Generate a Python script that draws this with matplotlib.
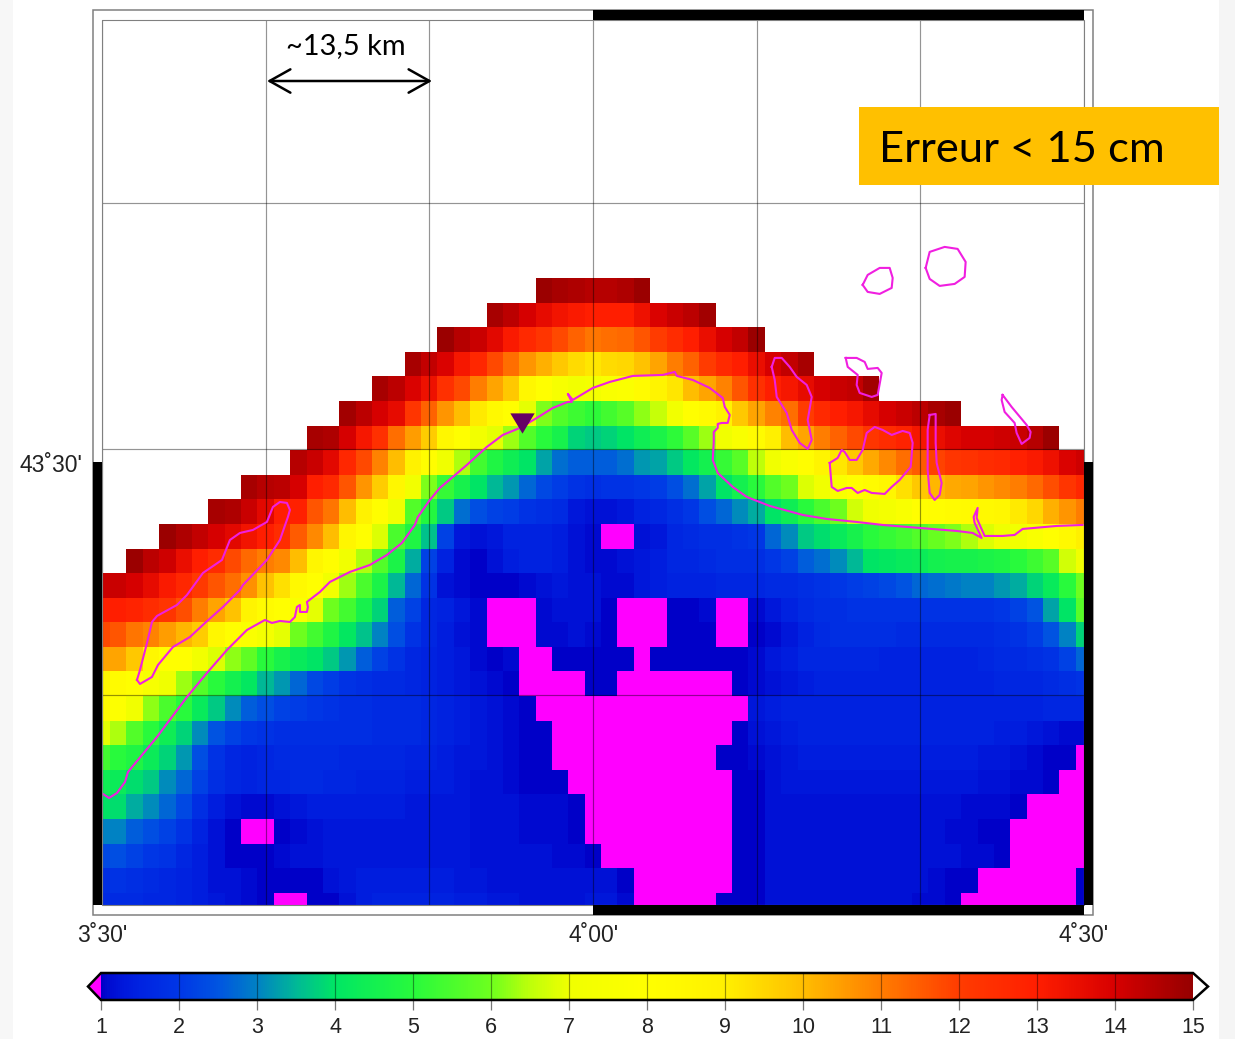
import numpy as np
import matplotlib
matplotlib.use('Agg')
import matplotlib.pyplot as plt
import matplotlib as mpl
from matplotlib.colors import LinearSegmentedColormap, Normalize
from matplotlib.patches import Rectangle

W, H = 1235, 1039

# error grid, one list per row from top to bottom. N = no data, M = below colour scale
N = np.nan
M = -1
r25 = (27, [14.9,14.7,14.6,14.5,14.5,14.6,14.9])
r24 = (24, [14.7,14.4,14,13.6,13.3,13.1,13,13,13,13.4,13.9,14.2,14.4,14.8])
r23 = (21, [14.9,14.5,14.2,13.7,13.1,12.6,12.2,11.8,11.4,11.1,11.2,11.3,11.6,12,12.5,13,13.5,14,14.3,14.9])
r22 = (19, [14.7,14.3,13.9,13.2,12.7,11.8,11.2,10.6,10.2,9.8,9.4,9.2,9.4,9.5,9.9,10.4,11,11.4,12,12.6,13,13.5,14,14.3,14.7])
r21 = (17, [14.7,14.4,13.9,13.4,12.4,11.8,11,10.4,9.8,8.5,8,7.5,7.2,7.3,7.6,7.8,8.2,8.7,9.2,10,10.4,10.9,11.6,12.4,13,13.2,13.6,14,14.2,14.3,14.8])
r20 = (15, [14.8,14.4,14,13.6,12.2,11.4,10.6,10,9.1,8.4,8,6.9,6.1,5.6,5.3,5.1,5.4,5.7,6.2,6.6,7.2,8,8.3,8.8,9.8,10.4,10.9,11.2,12,12.6,13,13.2,13.6,14,14.2,14.4,14.7,14.9])
r19 = (13, [14.7,14.6,14,13.2,12.4,11.2,10.5,9.7,8.5,8,7.2,6.9,6.3,5.6,5,4.6,3.8,3.7,3.8,4,4.4,4.7,5.1,5.7,6.3,7.1,7.6,8.2,9,10,10.4,11,11.4,11.8,12.2,12.5,12.8,13.2,13.5,13.8,14,14,14.1,14.2,14.5,14.9])
r18 = (12, [14.5,14.2,13.7,12.7,11.8,10.9,10,8.8,8.1,7,6.4,5.4,4.8,4.4,4,3.3,2.8,2.6,2.6,2.6,2.8,3.2,3.3,3.7,4.1,4.5,5.2,5.7,6.5,7.1,7.6,8.1,8.7,9.2,9.8,10.3,10.8,11.2,11.5,11.9,12.2,12.3,12.5,12.6,12.9,13.1,13.4,13.9,14.1])
r17 = (9, [14.7,14.5,14.4,14,13,12.6,11.6,10.6,9.7,8.5,7.2,6.1,5.2,4.6,4,3.5,3.2,2.7,2.3,2.1,1.9,1.8,1.9,1.9,2,2.1,2.4,2.8,3.3,4,4.5,5,5.6,6,6.8,7.1,7.6,8,8.2,8.6,9.3,9.8,10.1,10.3,10.4,10.6,10.8,11,11.3,11.7,12.2,12.7])
r16 = (7, [14.7,14.6,14.2,13.7,13,12.9,11.6,11.1,10,8.8,8.1,7,5.6,4.9,3.7,2.8,2.4,2.2,2.1,1.9,1.8,1.7,1.3,1.2,1.2,1.3,1.5,1.6,1.8,2,2.4,2.7,3.1,3.4,4,4.4,5,5.5,6,6.7,7,7.3,7.6,8,8.1,8.2,8.3,8.4,8.5,9.1,9.5,10.2,10.6,11])
r15 = (4, [14.9,14.6,14.3,14,13.7,13.3,13,12.5,11.5,10.8,10,8.6,8,6.8,5.5,4.8,3.6,2.2,1.3,1.2,1.3,1.5,1.5,1.5,1.4,1.2,1.1,M,M,1.2,1.3,1.6,1.7,1.8,1.8,1.9,2,2.7,3.1,3.7,3.9,4.2,4.6,5,5.2,5.4,5.6,5.9,6.1,6.4,6.8,7,7.2,7.6,8,8.4,9])
r14 = (2, [14.9,14.4,14.1,13.5,13,12.5,11.8,11.3,11,10.8,10,8.6,8.1,7.1,6.4,5.6,4.7,3.4,2.2,1.5,1.1,1,1.2,1.4,1.5,1.5,1.4,1.2,1.1,1.1,1.2,1.3,1.4,1.6,1.6,1.7,1.8,1.8,1.8,2,2.2,2.6,2.8,3.1,3.5,4,4.1,4.2,4.3,4.5,4.6,4.6,4.7,4.8,5,5.3,5.7,6.7,7])
r13 = (0, [14.2,14.2,14,13.6,13.1,12.7,12.1,11.6,11.2,10.7,9.9,9.3,8.4,8,7.1,6.3,5.5,4.7,3.5,2.7,1.9,1.2,1.1,1,1,1,1.1,1.2,1.3,1.2,1.2,1.1,1.1,1.3,1.4,1.5,1.5,1.5,1.6,1.6,1.6,1.7,1.7,1.8,1.9,2,2.1,2.2,2.3,2.5,2.7,2.8,2.9,3,3,3.2,3.4,3.8,4.2,5,6])
r12 = (0, [12.9,13,12.8,12.5,12.2,11.7,11,10.4,9.9,8.7,8.2,8,7.6,6.9,6,5.4,4.6,3.8,2.6,2.2,1.6,1.5,1.3,1.1,M,M,M,1.1,1.2,1.2,1.2,1,M,M,M,1,1,1.1,M,M,1.1,1.3,1.5,1.7,1.8,1.8,1.9,1.9,1.9,1.9,1.9,1.9,1.9,1.9,1.9,2,2.2,2.5,3.3,4,5.7])
r11 = (0, [11.8,11.6,11.1,10.9,10.5,10.1,9.7,8.5,8,7.7,7.3,6.9,6,5.4,4.8,4.1,3.6,3,2.4,1.9,1.6,1.4,1.2,1.1,M,M,M,1.1,1.1,1.2,1.1,1,M,M,M,1,1,1,M,M,1,1.1,1.3,1.5,1.7,1.8,1.8,1.8,1.8,1.7,1.7,1.7,1.7,1.7,1.7,1.8,1.9,2.1,2.5,3,3.8])
r10 = (0, [10.4,10.4,9.8,8.5,8,8,7.2,6.8,6.2,5.8,5,4.6,4.2,4,3.7,3.2,2.6,2.2,1.9,1.6,1.5,1.4,1.3,1.1,1,1.1,M,M,1,1,1,1,1,M,1,1,1,1,1,1,1.1,1.3,1.4,1.6,1.6,1.6,1.6,1.6,1.5,1.5,1.5,1.5,1.5,1.5,1.6,1.7,1.7,1.8,1.9,2.2,2.7])
r9 = (0, [8.6,8.2,8,7.5,7,6.3,5.6,5,4.5,4.1,3.5,3.2,2.7,2.3,2.1,1.9,1.8,1.7,1.7,1.6,1.5,1.4,1.3,1.2,1.1,1,M,M,M,M,1,1,M,M,M,M,M,M,M,1,1.1,1.2,1.3,1.4,1.5,1.5,1.5,1.5,1.5,1.5,1.5,1.5,1.5,1.5,1.5,1.6,1.6,1.6,1.7,1.8,1.9])
r8 = (0, [8.2,7.9,7.1,6.2,5.5,5,4.2,3.7,3.1,2.6,2.4,2.2,2.1,2,1.9,1.8,1.8,1.7,1.7,1.7,1.6,1.5,1.4,1.3,1.2,1.1,1,M,M,M,M,M,M,M,M,M,M,M,M,M,1.3,1.4,1.5,1.5,1.5,1.5,1.5,1.5,1.5,1.5,1.5,1.5,1.5,1.5,1.5,1.5,1.5,1.5,1.6,1.6,1.6])
r7 = (0, [6.9,6.4,5.6,5,4.4,3.8,3.1,2.5,2.2,2,1.9,1.8,1.8,1.8,1.8,1.8,1.8,1.7,1.7,1.7,1.6,1.5,1.4,1.3,1.2,1.1,1,1,M,M,M,M,M,M,M,M,M,M,M,1,1.2,1.3,1.4,1.5,1.5,1.5,1.5,1.5,1.5,1.5,1.5,1.5,1.5,1.5,1.5,1.4,1.4,1.3,1.2,1.1,1.1])
r6 = (0, [5.4,5,4.8,4.3,3.8,3.2,2.4,1.9,1.6,1.5,1.6,1.7,1.7,1.7,1.7,1.6,1.6,1.6,1.6,1.5,1.5,1.4,1.3,1.3,1.2,1.1,1,1,M,M,M,M,M,M,M,M,M,M,1,1,1.1,1.2,1.3,1.4,1.4,1.4,1.4,1.4,1.4,1.4,1.4,1.4,1.4,1.4,1.3,1.3,1.2,1.1,1,1,M])
r5 = (0, [4.4,4.3,3.9,3.7,3.1,2.7,2.2,1.8,1.6,1.5,1.6,1.6,1.7,1.7,1.6,1.6,1.5,1.5,1.5,1.4,1.4,1.4,1.3,1.2,1.2,1.1,1,1,1,M,M,M,M,M,M,M,M,M,M,1,1,1.2,1.3,1.3,1.3,1.3,1.3,1.3,1.3,1.3,1.3,1.3,1.3,1.3,1.2,1.2,1.1,1.1,1,M,M])
r4 = (0, [4,3.9,3.4,3.1,2.7,2.3,1.8,1.4,1.2,1.1,1.1,1.2,1.3,1.4,1.4,1.4,1.4,1.4,1.4,1.3,1.3,1.3,1.3,1.2,1.2,1.2,1.1,1.1,1.1,1,M,M,M,M,M,M,M,M,M,1,1,1.2,1.2,1.2,1.2,1.2,1.2,1.2,1.2,1.2,1.2,1.2,1.2,1.1,1.1,1.1,1,M,M,M,M])
r3 = (0, [3,3,2.6,2.4,2.2,1.9,1.5,1.2,1,M,M,1,1.1,1.2,1.3,1.3,1.3,1.3,1.3,1.3,1.3,1.3,1.3,1.2,1.2,1.2,1.1,1.1,1.1,1,M,M,M,M,M,M,M,M,M,1,1,1.2,1.2,1.2,1.2,1.2,1.2,1.2,1.2,1.2,1.2,1.2,1.1,1.1,1,1,M,M,M,M,M])
r2 = (0, [2.3,2.4,2.2,2,1.9,1.6,1.4,1.2,1,1,1,1.1,1.2,1.2,1.3,1.3,1.3,1.3,1.3,1.3,1.3,1.3,1.3,1.2,1.2,1.2,1.2,1.2,1.1,1.1,1,M,M,M,M,M,M,M,M,1,1,1.2,1.2,1.2,1.2,1.2,1.2,1.2,1.2,1.2,1.2,1.2,1.2,1.1,1.1,1,M,M,M,M,M])
r1 = (0, [1.8,1.9,1.8,1.7,1.6,1.5,1.4,1.2,1.2,1.1,1,1,1,1,1.2,1.3,1.4,1.4,1.4,1.4,1.4,1.4,1.3,1.3,1.2,1.2,1.2,1.2,1.2,1.2,1.2,1.2,1,M,M,M,M,M,M,1,1,1.2,1.2,1.2,1.2,1.2,1.2,1.2,1.2,1.2,1.2,1.1,1,1,M,M,M,M,M,M,1])
r0 = (0, [1.7,1.7,1.7,1.6,1.6,1.5,1.4,1.3,1.2,1.1,1,M,M,1,1,1.2,1.4,1.5,1.5,1.5,1.5,1.5,1.4,1.4,1.3,1.3,1.2,1.2,1.2,1.2,1.3,1.3,1.1,M,M,M,M,M,1,1,1,1.2,1.2,1.2,1.2,1.2,1.2,1.2,1.2,1.2,1.1,1.1,1,M,M,M,M,M,M,M,1])
rows = [r0,r1,r2,r3,r4,r5,r6,r7,r8,r9,r10,r11,r12,r13,r14,r15,r16,r17,r18,r19,r20,r21,r22,r23,r24,r25]

# colour scale
scale_vals = [1,1.1,1.3,1.5,2,2.5,3,3.5,4,5,6,6.5,7,8,9,9.5,10,11,12,13,14,15]
scale_cols = [(0,0,200),(0,12,210),(0,25,220),(0,35,225),(0,55,230),(0,85,225),(0,130,195),(0,185,150),(0,230,100),
              (40,250,60),(110,255,30),(190,255,10),(240,255,0),(255,255,0),(255,240,0),(255,215,0),(255,190,0),
              (255,125,0),(255,60,0),(255,30,0),(215,0,0),(150,0,0)]
cbar_ticks = list(range(1, 16))

# coast and islands (pixels of the screenshot)
coast = [(103,794),(109,798),(117,793),(125,782),(128,772),(157,737),(187,697),(207,673),(227,650),(247,630),(265,620),
         (272,623),(280,621),(290,622),(295,617),(297,607),(300,605),(300,612),(307,612),(308,607),(307,602),(320,592),
         (330,582),(350,572),(370,565),(387,555),(402,543),(415,525),(418,517),(430,500),(440,488),(453,477),(467,465),
         (487,447),(503,435),(520,428),(537,418),(553,408),(568,402),(572,402),(568,394),(573,400),(593,388),(610,382),
         (633,376),(663,375),(675,372),(677,376),(693,380),(710,388),(723,398),(725,407),(730,415),(728,423),(722,423),
         (718,424),(718,428),(714,432),(714,442),(713,460),(718,473),(733,487),(747,497),(770,506),(803,515),(827,519),
         (857,522),(883,525),(920,528),(957,531),(973,533),(982,538),(975,523),(974,517),(978,508),(977,518),(985,536),
         (1003,536),(1015,535),(1023,529),(1057,526),(1083,525)]
spit = [(137,680),(140,684),(152,677),(158,665),(173,647),(190,637),(205,623),(223,607),(240,590),(243,585),(267,560),
        (280,540),(288,517),(290,510),(287,503),(280,502),(273,507),(267,522),(253,530),(240,533),(230,540),(222,560),
        (203,573),(187,595),(177,605),(157,616),(152,622),(147,643),(140,670),(137,680)]
isl_a = [(863,285),(868,275),(880,268),(890,268),(893,278),(892,288),(880,294),(868,292),(863,285)]
isl_b = [(926,268),(930,252),(945,247),(958,249),(966,262),(965,277),(955,284),(940,286),(930,279),(926,268)]
isl_c = [(772,367),(775,358),(782,358),(790,367),(797,377),(807,385),(812,397),(808,420),(812,440),(808,449),(800,443),
         (792,430),(787,413),(777,397),(775,380),(772,367)]
isl_d = [(846,358),(857,358),(865,362),(868,369),(878,368),(882,373),(878,395),(872,397),(860,393),(857,385),(858,375),
         (848,367),(846,358)]
isl_e = [(830,463),(838,458),(842,450),(845,452),(850,460),(857,460),(863,450),(867,433),(875,427),(883,430),(892,435),
         (903,431),(910,433),(913,443),(911,467),(900,480),(892,487),(885,494),(872,493),(865,490),(858,493),(852,488),
         (847,488),(838,491),(832,487),(830,463)]
isl_f = [(930,415),(936,414),(936,443),(937,463),(942,483),(940,495),(935,500),(930,493),(928,470),(928,430),(930,415)]
isl_g = [(1003,395),(1012,407),(1027,425),(1031,432),(1030,438),(1022,444),(1017,433),(1015,423),(1005,412),(1002,400),(1003,395)]
outlines = [coast, spit, isl_a, isl_b, isl_c, isl_d, isl_e, isl_f, isl_g]
station = (522, 423)

grid = np.full((26, 61), np.nan)
for i, (start, vals) in enumerate(rows):
    grid[i, start:start + len(vals)] = vals

cmap = LinearSegmentedColormap.from_list(
    'err', [((v - 1) / 14., tuple(c / 255. for c in col)) for v, col in zip(scale_vals, scale_cols)], N=512)
cmap.set_under('#ff00ff')
cmap.set_over('white')
cmap.set_bad((1, 1, 1, 0))
norm = Normalize(1, 15)

fig = plt.figure(figsize=(W / 100., H / 100.), dpi=100)
plt.rcParams['font.family'] = ['Liberation Sans', 'DejaVu Sans']


def box(x0, y0, x1, y1):
    return [x0 / W, 1 - y1 / H, (x1 - x0) / W, (y1 - y0) / H]


# map: x in minutes from 3 30', y in grid rows from the bottom edge
ax = fig.add_axes(box(102.2, 20, 1084, 905))
ax.imshow(grid, origin='lower', extent=[-0.5, 60.5, -0.5, 25.5], cmap=cmap, norm=norm,
          interpolation='nearest', aspect='auto')
ax.set_xlim(0, 60)
ax.set_ylim(0, 36)
for xg in range(0, 61, 10):
    ax.axvline(xg, color='k', lw=0.85, alpha=0.42, zorder=3)
for yg in [8.54, 18.55, 28.57]:
    ax.axhline(yg, color='k', lw=0.85, alpha=0.42, zorder=3)
for line in outlines:
    pts = np.array(line, dtype=float)
    ax.plot((pts[:, 0] - 102.2) / 16.37, (905 - pts[:, 1]) / 24.58, color='#f01fe0', lw=1.5, zorder=4,
            solid_joinstyle='round')
ax.plot((station[0] - 102.2) / 16.37, (905 - station[1]) / 24.58, marker=[(-12, 10), (12, 10), (0, -10)],
        ms=17.5, color='#660066', mec='none', zorder=5)
ax.set_xticks([0, 30, 60])
ax.set_xticklabels(["3˚30'", "4˚00'", "4˚30'"], fontsize=16.5, color='#222222')
ax.set_yticks([18])
ax.set_yticklabels(["43˚30'"], fontsize=16.5, color='#222222')
ax.tick_params(axis='x', length=0, pad=14)
ax.tick_params(axis='y', length=0, pad=14)
for s in ax.spines.values():
    s.set_visible(False)

# colour bar, the axes also hold the two end triangles
cax = fig.add_axes(box(88, 973, 1208, 1000))
cb = mpl.colorbar.ColorbarBase(cax, cmap=cmap, norm=norm, orientation='horizontal', extend='both',
                               extendfrac=[13 / 1092., 15 / 1092.], ticks=cbar_ticks, drawedges=False)
cb.outline.set_linewidth(1.8)
cb.outline.set_edgecolor('k')
cb.ax.minorticks_off()
cb.ax.tick_params(axis='x', length=7.5, width=0.9, color='#777777', labelsize=15.5, labelcolor='#222222', pad=4.5)
for v in cbar_ticks[1:-1]:
    cax.axvline(v, color='k', lw=0.85, alpha=0.4)

# everything drawn on top in screenshot pixels: frame, notes
top = fig.add_axes([0, 0, 1, 1], zorder=10)
top.set_xlim(0, W)
top.set_ylim(H, 0)
top.axis('off')
top.patch.set_alpha(0)
top.add_patch(Rectangle((0, 0), 13, H, fc='#f7f7f7', ec='none'))
top.add_patch(Rectangle((1219, 0), 16, H, fc='#f5f5f5', ec='none'))
top.add_patch(Rectangle((92.5, 10), 1000.5, 905, fc='none', ec='#808080', lw=1.1))
top.add_patch(Rectangle((102, 20), 982, 885, fc='none', ec='#808080', lw=0.8))
for xy, w, h in [((92.5, 462), 9.7, 443), ((1084, 462), 9, 443), ((593, 10), 491, 10), ((593, 905), 491, 10)]:
    top.add_patch(Rectangle(xy, w, h, fc='k', ec='none'))
top.add_patch(Rectangle((859, 107), 360, 78, fc='#ffc000', ec='none'))
top.text(879, 150, 'Erreur < 15 cm', fontsize=31.3, family=['Lato', 'DejaVu Sans'], va='center', ha='left', color='k')
top.text(345.5, 46, '~13,5 km', fontsize=20.9, family=['Lato', 'DejaVu Sans'], va='center', ha='center', color='k')
top.annotate('', xy=(267, 81), xytext=(432, 81),
             arrowprops=dict(arrowstyle='<->,head_length=0.75,head_width=0.42', color='k', lw=1.8,
                             mutation_scale=20, shrinkA=0, shrinkB=0))

fig.savefig('out.png', dpi=100)
